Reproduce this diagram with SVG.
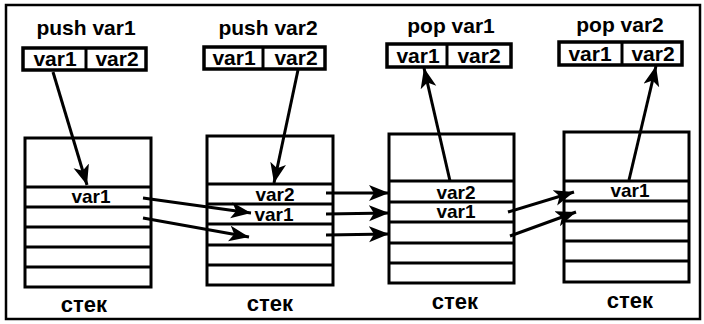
<svg xmlns="http://www.w3.org/2000/svg" width="704" height="324" viewBox="0 0 704 324">
<defs>
<marker id="ah" markerUnits="userSpaceOnUse" markerWidth="22" markerHeight="18" refX="20" refY="8" orient="auto">
<path d="M0,0 L20,8 L0,16 L5,8 z" fill="#000"/>
</marker>
<style>
.frame{fill:#fff;stroke:#000;stroke-width:2.5}
.box{fill:#fff;stroke:#000;stroke-width:3.5}
.st{fill:#fff;stroke:#000;stroke-width:3}
.dv{stroke:#000;stroke-width:3}
.title{font-family:"Liberation Sans",Arial,sans-serif;font-weight:bold;font-size:21px;text-anchor:middle;fill:#000}
.bt{font-family:"Liberation Sans",Arial,sans-serif;font-weight:bold;font-size:21px;text-anchor:middle;fill:#000}
.vt{font-family:"Liberation Sans",Arial,sans-serif;font-weight:bold;font-size:19px;text-anchor:middle;fill:#000}
.lb{font-family:"Liberation Sans",Arial,sans-serif;font-weight:bold;font-size:22px;text-anchor:middle;fill:#000}
.ar{fill:none;stroke:#000;stroke-width:3;marker-end:url(#ah)}
</style>
</defs>
<rect class="frame" x="6" y="5" width="694" height="314"/>

<g id="op1">
<text class="title" x="86" y="35">push var1</text>
<rect class="box" x="23" y="48" width="123" height="22"/>
<line class="dv" x1="86" y1="48" x2="86" y2="70"/>
<text class="bt" x="55" y="66">var1</text>
<text class="bt" x="117" y="66">var2</text>
</g>
<g id="op2">
<text class="title" x="268" y="35">push var2</text>
<rect class="box" x="204" y="47" width="121" height="22"/>
<line class="dv" x1="263" y1="47" x2="263" y2="69"/>
<text class="bt" x="234" y="65">var1</text>
<text class="bt" x="296" y="65">var2</text>
</g>
<g id="op3">
<text class="title" x="451" y="33">pop var1</text>
<rect class="box" x="387" y="44" width="124" height="23"/>
<line class="dv" x1="447" y1="44" x2="447" y2="67"/>
<text class="bt" x="418" y="63">var1</text>
<text class="bt" x="479" y="63">var2</text>
</g>
<g id="op4">
<text class="title" x="620" y="32">pop var2</text>
<rect class="box" x="559" y="42" width="123" height="23"/>
<line class="dv" x1="622" y1="42" x2="622" y2="65"/>
<text class="bt" x="590" y="61">var1</text>
<text class="bt" x="653" y="61">var2</text>
</g>

<g id="stack1">
<rect class="st" x="25" y="138" width="126" height="149"/>
<line class="dv" x1="25" y1="187" x2="151" y2="187"/>
<line class="dv" x1="25" y1="207" x2="151" y2="207"/>
<line class="dv" x1="25" y1="227" x2="151" y2="227"/>
<line class="dv" x1="25" y1="247" x2="151" y2="247"/>
<line class="dv" x1="25" y1="267" x2="151" y2="267"/>
<text class="vt" x="91" y="203">var1</text>
<text class="lb" x="84" y="312">стек</text>
</g>
<g id="stack2">
<rect class="st" x="207" y="136" width="126" height="149"/>
<line class="dv" x1="207" y1="184" x2="333" y2="184"/>
<line class="dv" x1="207" y1="204" x2="333" y2="204"/>
<line class="dv" x1="207" y1="224" x2="333" y2="224"/>
<line class="dv" x1="207" y1="245" x2="333" y2="245"/>
<line class="dv" x1="207" y1="265" x2="333" y2="265"/>
<text class="vt" x="275" y="201">var2</text>
<text class="vt" x="274" y="221">var1</text>
<text class="lb" x="270" y="311">стек</text>
</g>
<g id="stack3">
<rect class="st" x="389" y="134" width="125" height="149"/>
<line class="dv" x1="389" y1="181" x2="514" y2="181"/>
<line class="dv" x1="389" y1="202" x2="514" y2="202"/>
<line class="dv" x1="389" y1="222" x2="514" y2="222"/>
<line class="dv" x1="389" y1="243" x2="514" y2="243"/>
<line class="dv" x1="389" y1="263" x2="514" y2="263"/>
<text class="vt" x="456" y="199">var2</text>
<text class="vt" x="456" y="218">var1</text>
<text class="lb" x="455" y="309">стек</text>
</g>
<g id="stack4">
<rect class="st" x="564" y="132" width="125" height="150"/>
<line class="dv" x1="564" y1="181" x2="689" y2="181"/>
<line class="dv" x1="564" y1="201" x2="689" y2="201"/>
<line class="dv" x1="564" y1="221" x2="689" y2="221"/>
<line class="dv" x1="564" y1="241" x2="689" y2="241"/>
<line class="dv" x1="564" y1="261" x2="689" y2="261"/>
<text class="vt" x="630" y="197">var1</text>
<text class="lb" x="630" y="308">стек</text>
</g>

<g id="connectors">
<line class="ar" x1="53" y1="72" x2="87" y2="185"/>
<line class="ar" x1="298" y1="70" x2="274" y2="183"/>
<line class="ar" x1="450" y1="181" x2="424" y2="68"/>
<line class="ar" x1="629" y1="180" x2="656" y2="66"/>
<line class="ar" x1="143" y1="198" x2="251" y2="213"/>
<line class="ar" x1="143" y1="218" x2="249" y2="237"/>
<line class="ar" x1="326" y1="193" x2="389" y2="193"/>
<line class="ar" x1="326" y1="214" x2="389" y2="213"/>
<line class="ar" x1="326" y1="235" x2="389" y2="234"/>
<line class="ar" x1="508" y1="212" x2="574" y2="192"/>
<line class="ar" x1="510" y1="236" x2="576" y2="212"/>
</g>
</svg>
